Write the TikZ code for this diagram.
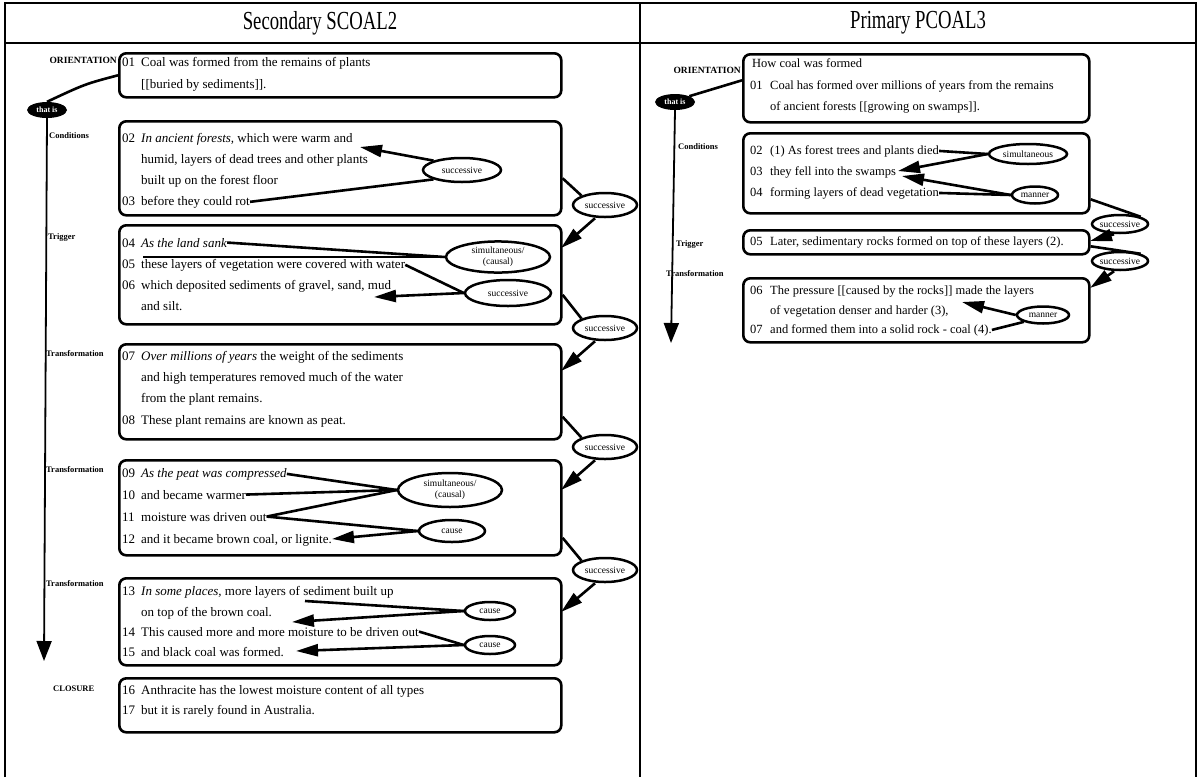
\documentclass[tikz,border=0pt]{standalone}
\usepackage{fontspec}
\setmainfont{Liberation Serif}
\usetikzlibrary{shapes.geometric,arrows.meta,calc}
\newcommand{\nr}[1]{\makebox[19pt][l]{#1}}
\newcommand{\nrr}[1]{\makebox[20pt][l]{#1}}
\newcommand{\rl}[1]{\makebox[0pt]{#1}}
\begin{document}
\begin{tikzpicture}[x=1pt,y=-1pt,
  frame/.style={line width=1.6pt},
  stage/.style={rounded corners=7pt, draw, line width=2.6pt, anchor=north west, inner sep=0pt},
  txt/.style={anchor=base west, inner sep=0pt, font=\fontsize{13}{14}\selectfont},
  txtr/.style={anchor=base west, inner sep=0pt, font=\fontsize{12.5}{14}\selectfont},
  lab/.style={anchor=west, inner sep=0pt, font=\fontsize{8.5}{9}\selectfont\bfseries},
  orient/.style={anchor=east, inner sep=0pt, font=\fontsize{9.5}{10}\selectfont\bfseries},
  rel/.style={ellipse, draw, line width=2.5pt, inner sep=0pt, font=\fontsize{9.5}{11}\selectfont},
  link/.style={line width=2.6pt},
  linkarr/.style={line width=2.6pt, -{Triangle[length=22pt,width=12pt]}},
  flow/.style={line width=1.8pt, -{Triangle[length=20pt,width=15pt]}},
  thatis/.style={ellipse, fill=black, text=white, inner sep=0pt, minimum width=40pt, minimum height=16pt, font=\fontsize{8}{9}\selectfont\bfseries}
]
\useasboundingbox (0,0) rectangle (1201,777);
\fill[white] (0,0) rectangle (1201,777);

% table frame
\draw[frame] (5,777) -- (5,3) -- (1196,3) -- (1196,777);
\draw[frame] (5,43) -- (1196,43);
\draw[frame] (640,3) -- (640,777);

% column titles
\node[font=\fontsize{26}{26}\selectfont] (titleL) at (320,23) {\scalebox{0.72}[1]{Secondary SCOAL2}};
\node[font=\fontsize{26}{26}\selectfont] (titleR) at (918,23) {\scalebox{0.72}[1]{Primary PCOAL3}};

% ---------- left column: stage boxes ----------
\node[stage, minimum width=442pt, minimum height=44pt] (bL01) at (118,52) {};
\node[stage, minimum width=442pt, minimum height=94pt] (bL02) at (118,120) {};
\node[stage, minimum width=442pt, minimum height=99pt] (bL04) at (118,224) {};
\node[stage, minimum width=442pt, minimum height=95pt] (bL07) at (118,343) {};
\node[stage, minimum width=442pt, minimum height=95pt] (bL09) at (118,459) {};
\node[stage, minimum width=442pt, minimum height=87pt] (bL13) at (118,577) {};
\node[stage, minimum width=442pt, minimum height=54pt] (bL16) at (118,677) {};

% left column: clauses
\node[txt] (l01) at (122,66) {\nr{01}Coal was formed from the remains of plants};
\node[txt] (l01b) at (141,88) {[[buried by sediments]].};
\node[txt] (l02) at (122,142) {\nr{02}\textit{In ancient forests,} which were warm and};
\node[txt] (l02b) at (141,163) {humid, layers of dead trees and other plants};
\node[txt] (l02c) at (141,184) {built up on the forest floor};
\node[txt] (l03) at (122,205) {\nr{03}before they could rot};
\node[txt] (l04) at (122,247) {\nr{04}\textit{As the land sank}};
\node[txt] (l05) at (122,268) {\nr{05}these layers of vegetation were covered with water};
\node[txt] (l06) at (122,289) {\nr{06}which deposited sediments of gravel, sand, mud};
\node[txt] (l06b) at (141,310) {and silt.};
\node[txt] (l07) at (122,360) {\nr{07}\textit{Over millions of years} the weight of the sediments};
\node[txt] (l07b) at (141,381) {and high temperatures removed much of the water};
\node[txt] (l07c) at (141,402) {from the plant remains.};
\node[txt] (l08) at (122,424) {\nr{08}These plant remains are known as peat.};
\node[txt] (l09) at (122,477) {\nr{09}\textit{As the peat was compressed}};
\node[txt] (l10) at (122,499) {\nr{10}and became warmer};
\node[txt] (l11) at (122,521) {\nr{11}moisture was driven out};
\node[txt] (l12) at (122,543) {\nr{12}and it became brown coal, or lignite.};
\node[txt] (l13) at (122,595) {\nr{13}\textit{In some places,} more layers of sediment built up};
\node[txt] (l13b) at (141,616) {on top of the brown coal.};
\node[txt] (l14) at (122,636) {\nr{14}This caused more and more moisture to be driven out};
\node[txt] (l15) at (122,656) {\nr{15}and black coal was formed.};
\node[txt] (l16) at (122,694) {\nr{16}Anthracite has the lowest moisture content of all types};
\node[txt] (l17) at (122,714) {\nr{17}but it is rarely found in Australia.};

% left column: stage labels
\node[orient] (oL) at (117,60) {ORIENTATION};
\node[lab] (cL) at (49,136) {Conditions};
\node[lab] (trL) at (48,237) {Trigger};
\node[lab] (tfL1) at (46,354) {Transformation};
\node[lab] (tfL2) at (46,470) {Transformation};
\node[lab] (tfL3) at (46,584) {Transformation};
\node[lab] (clL) at (53,689) {CLOSURE};

% left column: "that is" and time line
\node[thatis] (thL) at (47,110) {that is};
\draw[link] (bL01.west) .. controls (85,84) .. (thL.north);
\coordinate (endL) at (44,661);
\draw[flow] (thL.south) -- (endL);

% left column: relations
\node[rel, minimum width=78pt, minimum height=24pt] (sA) at (462,170) {\rl{successive}};
\node[rel, minimum width=64pt, minimum height=24pt] (sB) at (605,205) {\rl{successive}};
\node[rel, minimum width=104pt, minimum height=30pt] (mA) at (498,257) {\rl{\begin{tabular}{@{}c@{}}simultaneous/\\(causal)\end{tabular}}};
\node[rel, minimum width=86pt, minimum height=26pt] (sC) at (508,293) {\rl{successive}};
\node[rel, minimum width=64pt, minimum height=24pt] (sD) at (605,328) {\rl{successive}};
\node[rel, minimum width=64pt, minimum height=24pt] (sE) at (605,447) {\rl{successive}};
\node[rel, minimum width=104pt, minimum height=34pt] (mB) at (450,490) {\rl{\begin{tabular}{@{}c@{}}simultaneous/\\(causal)\end{tabular}}};
\node[rel, minimum width=66pt, minimum height=22pt] (cA) at (452,531) {\rl{cause}};
\node[rel, minimum width=64pt, minimum height=24pt] (sF) at (605,570) {\rl{successive}};
\node[rel, minimum width=50pt, minimum height=18pt] (cB) at (490,611) {\rl{cause}};
\node[rel, minimum width=50pt, minimum height=18pt] (cC) at (490,645) {\rl{cause}};

% free ends of the left connectors
\coordinate (tA) at (360,147);
\coordinate (tB) at (561,248);
\coordinate (c05) at (143,257);
\coordinate (tC) at (374,297);
\coordinate (tD) at (561,371);
\coordinate (tE) at (561,490);
\coordinate (tF) at (332,539);
\coordinate (tG) at (561,612);
\coordinate (c13) at (305,601);
\coordinate (tH) at (292,622);
\coordinate (tI) at (296,651);

% left column: connectors
\draw[link] (l03.east) -- (sA.south west);
\draw[linkarr] (sA.north west) -- (tA);
\draw[link] ([yshift=-10pt]bL02.east) -- (sB.north west);
\draw[linkarr] ([xshift=-10pt]sB.south) -- (tB);
\draw[link] (l04.east) -- (mA.west);
\draw[link] (c05) -- (mA.west);
\draw[link] (l05.east) -- (sC.west);
\draw[linkarr] (sC.west) -- (tC);
\draw[link] ([yshift=-20pt]bL04.east) -- (sD.north west);
\draw[linkarr] ([xshift=-10pt]sD.south) -- (tD);
\draw[link] ([yshift=-25pt]bL07.east) -- (sE.north west);
\draw[linkarr] ([xshift=-10pt]sE.south) -- (tE);
\draw[link] (l09.east) -- (mB.west);
\draw[link] (l10.east) -- (mB.west);
\draw[link] (l11.east) -- (mB.west);
\draw[link] (l11.east) -- (cA.west);
\draw[linkarr] (cA.west) -- (tF);
\draw[link] ([yshift=-30pt]bL09.east) -- (sF.north west);
\draw[linkarr] ([xshift=-10pt]sF.south) -- (tG);
\draw[link] (c13) -- (cB.west);
\draw[linkarr] (cB.west) -- (tH);
\draw[link] (l14.east) -- (cC.west);
\draw[linkarr] (cC.west) -- (tI);

% ---------- right column: stage boxes ----------
\node[stage, minimum width=346pt, minimum height=68pt] (bR01) at (742,53) {};
\node[stage, minimum width=346pt, minimum height=80pt] (bR02) at (742,132) {};
\node[stage, minimum width=346pt, minimum height=24pt] (bR05) at (742,229) {};
\node[stage, minimum width=346pt, minimum height=64pt] (bR06) at (742,277) {};

% right column: clauses
\node[txtr] (r00) at (752,67) {How coal was formed};
\node[txtr] (r01) at (750,89) {\nrr{01}Coal has formed over millions of years from the remains};
\node[txtr] (r01b) at (770,110) {of ancient forests [[growing on swamps]].};
\node[txtr] (r02) at (750,154) {\nrr{02}(1) As forest trees and plants died};
\node[txtr] (r03) at (750,175) {\nrr{03}they fell into the swamps};
\node[txtr] (r04) at (750,196) {\nrr{04}forming layers of dead vegetation};
\node[txtr] (r05) at (750,245) {\nrr{05}Later, sedimentary rocks formed on top of these layers (2).};
\node[txtr] (r06) at (750,294) {\nrr{06}The pressure [[caused by the rocks]] made the layers};
\node[txtr] (r06b) at (770,314) {of vegetation denser and harder (3),};
\node[txtr] (r07) at (750,333) {\nrr{07}and formed them into a solid rock - coal (4).};

% right column: stage labels
\node[orient] (oR) at (741,70) {ORIENTATION};
\node[lab] (cR) at (678,147) {Conditions};
\node[lab] (trR) at (676,244) {Trigger};
\node[lab] (tfR) at (666,274) {Transformation};

% right column: "that is" and time line
\node[thatis] (thR) at (675,102) {that is};
\draw[link] ([yshift=8pt]bR01.west) -- (thR.north east);
\coordinate (endR) at (671,343);
\draw[flow] (thR.south) -- (endR);

% right column: relations
\node[rel, minimum width=78pt, minimum height=20pt] (mR) at (1028,154) {\rl{simultaneous}};
\node[rel, minimum width=46pt, minimum height=17pt] (nR1) at (1035,195) {\rl{manner}};
\node[rel, minimum width=56pt, minimum height=18pt] (sR1) at (1120,224) {\rl{successive}};
\node[rel, minimum width=56pt, minimum height=18pt] (sR2) at (1120,261) {\rl{successive}};
\node[rel, minimum width=52pt, minimum height=17pt] (nR2) at (1043,315) {\rl{manner}};

% free ends of the right connectors
\coordinate (tR1) at (898,171);
\coordinate (tR1b) at (902,176);
\coordinate (tR2) at (1090,241);
\coordinate (tR3) at (1090,288);
\coordinate (tR4) at (962,302);

% right column: connectors
\draw[link] (r02.east) -- (mR.west);
\draw[linkarr] (mR.west) -- (tR1);
\draw[link] (r04.east) -- (nR1.west);
\draw[linkarr] (nR1.west) -- (tR1b);
\draw[link] ([yshift=-26pt]bR02.east) -- (sR1.north east);
\draw[linkarr] ([xshift=-6pt]sR1.south) -- (tR2);
\draw[link] ([yshift=-4pt]bR05.east) -- (sR2.north east);
\draw[linkarr] ([xshift=-6pt]sR2.south) -- (tR3);
\draw[link] (r07.east) -- (nR2.south west);
\draw[linkarr] (nR2.west) -- (tR4);
\end{tikzpicture}
\end{document}
